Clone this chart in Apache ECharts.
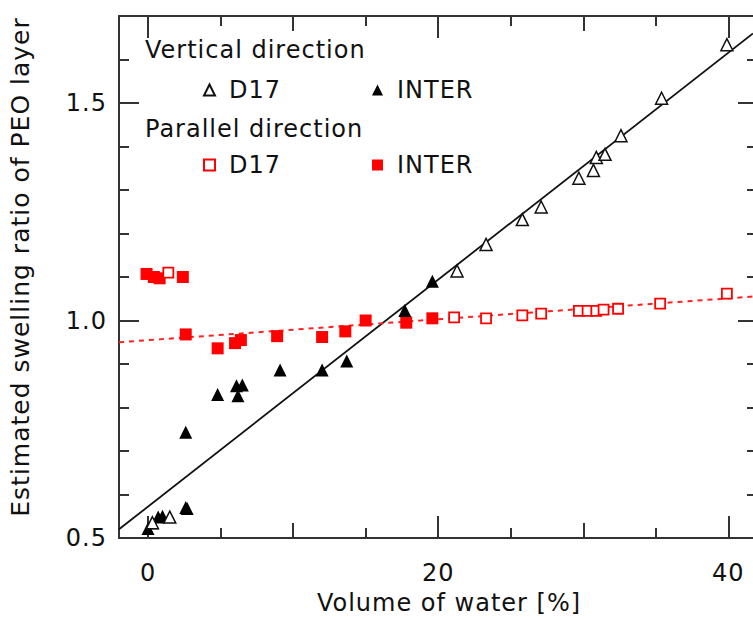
<!DOCTYPE html>
<html>
<head>
<meta charset="utf-8">
<script src="https://cdn.jsdelivr.net/npm/echarts@6/dist/echarts.min.js"></script>
<style>
html,body{margin:0;padding:0;background:#fff}
#c{width:753px;height:620px}
#c svg text{letter-spacing:1px}
</style>
</head>
<body>
<div id="c"></div>
<script>
// ---- data ----
const verticalD17 = [[0.3,0.535],[1.5,0.548],[21.3,1.114],[23.3,1.175],[25.8,1.232],[27.1,1.261],[29.7,1.327],[30.7,1.345],[30.9,1.375],[31.5,1.382],[32.6,1.425],[35.4,1.511],[39.9,1.634]];
const verticalINTER = [[0,0.522],[0.3,0.535],[0.7,0.548],[1.0,0.55],[2.6,0.57],[2.7,0.568],[2.6,0.743],[4.8,0.83],[6.1,0.85],[6.5,0.852],[6.2,0.827],[9.1,0.886],[12.0,0.886],[13.7,0.907],[17.7,1.023],[19.6,1.09]];
const parallelD17 = [[1.4,1.11],[21.1,1.007],[23.3,1.005],[25.8,1.012],[27.1,1.016],[29.7,1.022],[30.3,1.022],[30.9,1.022],[31.4,1.025],[32.4,1.027],[35.3,1.039],[39.9,1.062]];
const parallelINTER = [[-0.1,1.107],[0.4,1.10],[0.8,1.097],[2.4,1.10],[2.6,0.968],[4.8,0.936],[6.0,0.948],[6.4,0.955],[8.9,0.964],[12.0,0.962],[13.6,0.975],[15.0,1.0],[17.8,0.995],[19.6,1.005]];
const verticalFit = [[-2,0.52],[41.7,1.66]];
const parallelFit = [[-2,0.95],[41.7,1.055]];
const xLabels = [0,20,40];
const xMidTicks = [10,30];
const xMinorTicks = [5,15,25,35];
const yLabels = [0.5,1.0,1.5];
const yMinorTicks = [0.6,0.7,0.8,0.9,1.1,1.2,1.3,1.4,1.6,1.7];

const FONT = 'DejaVu Sans';
const TXT = '#111';
const AX = '#333';

function xAx(pos, ticks, len, opts) {
  return Object.assign({
    type: 'value', position: pos, min: -2, max: 41.7, gridIndex: 0,
    axisLine: { show: false, onZero: false },
    axisTick: { show: true, inside: true, length: len, customValues: ticks, lineStyle: { color: AX, width: 2 } },
    axisLabel: { show: false },
    splitLine: { show: false }
  }, opts || {});
}
function yAx(pos, ticks, len, opts) {
  return Object.assign({
    type: 'value', position: pos, min: 0.5, max: 1.7, gridIndex: 0,
    axisLine: { show: false, onZero: false },
    axisTick: { show: true, inside: true, length: len, customValues: ticks, lineStyle: { color: AX, width: 2 } },
    axisLabel: { show: false },
    splitLine: { show: false }
  }, opts || {});
}
const lineOn = { show: true, onZero: false, lineStyle: { color: AX, width: 2 } };

const chart = echarts.init(document.getElementById('c'), null, { renderer: 'svg' });
chart.setOption({
  animation: false,
  backgroundColor: '#fff',
  grid: { left: 119, top: 16, right: 0, height: 526, containLabel: false },
  xAxis: [
    xAx('bottom', xLabels, 22, {
      axisLine: lineOn,
      axisLabel: { show: true, customValues: xLabels, margin: 23, fontFamily: FONT, fontSize: 24, color: TXT },
      name: 'Volume of water [%]', nameLocation: 'middle', nameGap: 53,
      nameTextStyle: { fontFamily: FONT, fontSize: 24, color: TXT, padding: [0, 0, 0, 26] }
    }),
    xAx('bottom', xMidTicks, 15),
    xAx('bottom', xMinorTicks, 10),
    xAx('top', xLabels, 22, { axisLine: lineOn }),
    xAx('top', xMidTicks, 15),
    xAx('top', xMinorTicks, 10)
  ],
  yAxis: [
    yAx('left', yLabels, 20, {
      axisLine: lineOn,
      axisLabel: { show: true, customValues: yLabels, margin: 12, fontFamily: FONT, fontSize: 24, color: TXT, formatter: v => v.toFixed(1) },
      name: 'Estimated swelling ratio of PEO layer', nameLocation: 'middle', nameGap: 86, nameRotate: 90,
      nameTextStyle: { fontFamily: FONT, fontSize: 25, color: TXT, padding: [0, 0, 0, 20] }
    }),
    yAx('left', yMinorTicks, 10),
    yAx('right', yLabels, 15),
    yAx('right', yMinorTicks, 6)
  ],
  legend: [
    { data: ['Vertical D17', 'Vertical INTER'], left: 203, top: 78, padding: 0, itemGap: 94, itemWidth: 11, itemHeight: 11,
      formatter: n => n.split(' ')[1], textStyle: { fontFamily: FONT, fontSize: 24, color: TXT, padding: [0, 0, 0, 9] } },
    { data: ['Parallel D17', 'Parallel INTER'], left: 203, top: 153, padding: 0, itemGap: 94, itemWidth: 11, itemHeight: 11,
      formatter: n => n.split(' ')[1], textStyle: { fontFamily: FONT, fontSize: 24, color: TXT, padding: [0, 0, 0, 9] } }
  ],
  graphic: [
    { type: 'text', left: 145, top: 38, style: { text: 'Vertical direction', font: '24px "DejaVu Sans"', fill: TXT } },
    { type: 'text', left: 145, top: 117, style: { text: 'Parallel direction', font: '24px "DejaVu Sans"', fill: TXT } }
  ],
  series: [
    { type: 'line', data: verticalFit, symbol: 'none', lineStyle: { color: '#111', width: 1.8 }, silent: true, z: 1 },
    { type: 'line', data: parallelFit, symbol: 'none', lineStyle: { color: '#ff2020', width: 2, type: [5, 5] }, silent: true, z: 1 },
    { name: 'Parallel INTER', type: 'scatter', data: parallelINTER, symbol: 'rect', symbolSize: 12,
      itemStyle: { color: '#ff0000', opacity: 1 }, z: 3 },
    { name: 'Parallel D17', type: 'scatter', data: parallelD17, symbol: 'rect', symbolSize: 10,
      itemStyle: { color: '#fff', borderColor: '#ff0000', borderWidth: 1.8, opacity: 1 }, z: 3 },
    { name: 'Vertical INTER', type: 'scatter', data: verticalINTER, symbol: 'triangle', symbolSize: 13,
      itemStyle: { color: '#000', opacity: 1 }, z: 4 },
    { name: 'Vertical D17', type: 'scatter', data: verticalD17, symbol: 'triangle', symbolSize: 12,
      itemStyle: { color: '#fff', borderColor: '#111', borderWidth: 1.5, opacity: 1 }, z: 4 }
  ]
});
</script>
</body>
</html>
